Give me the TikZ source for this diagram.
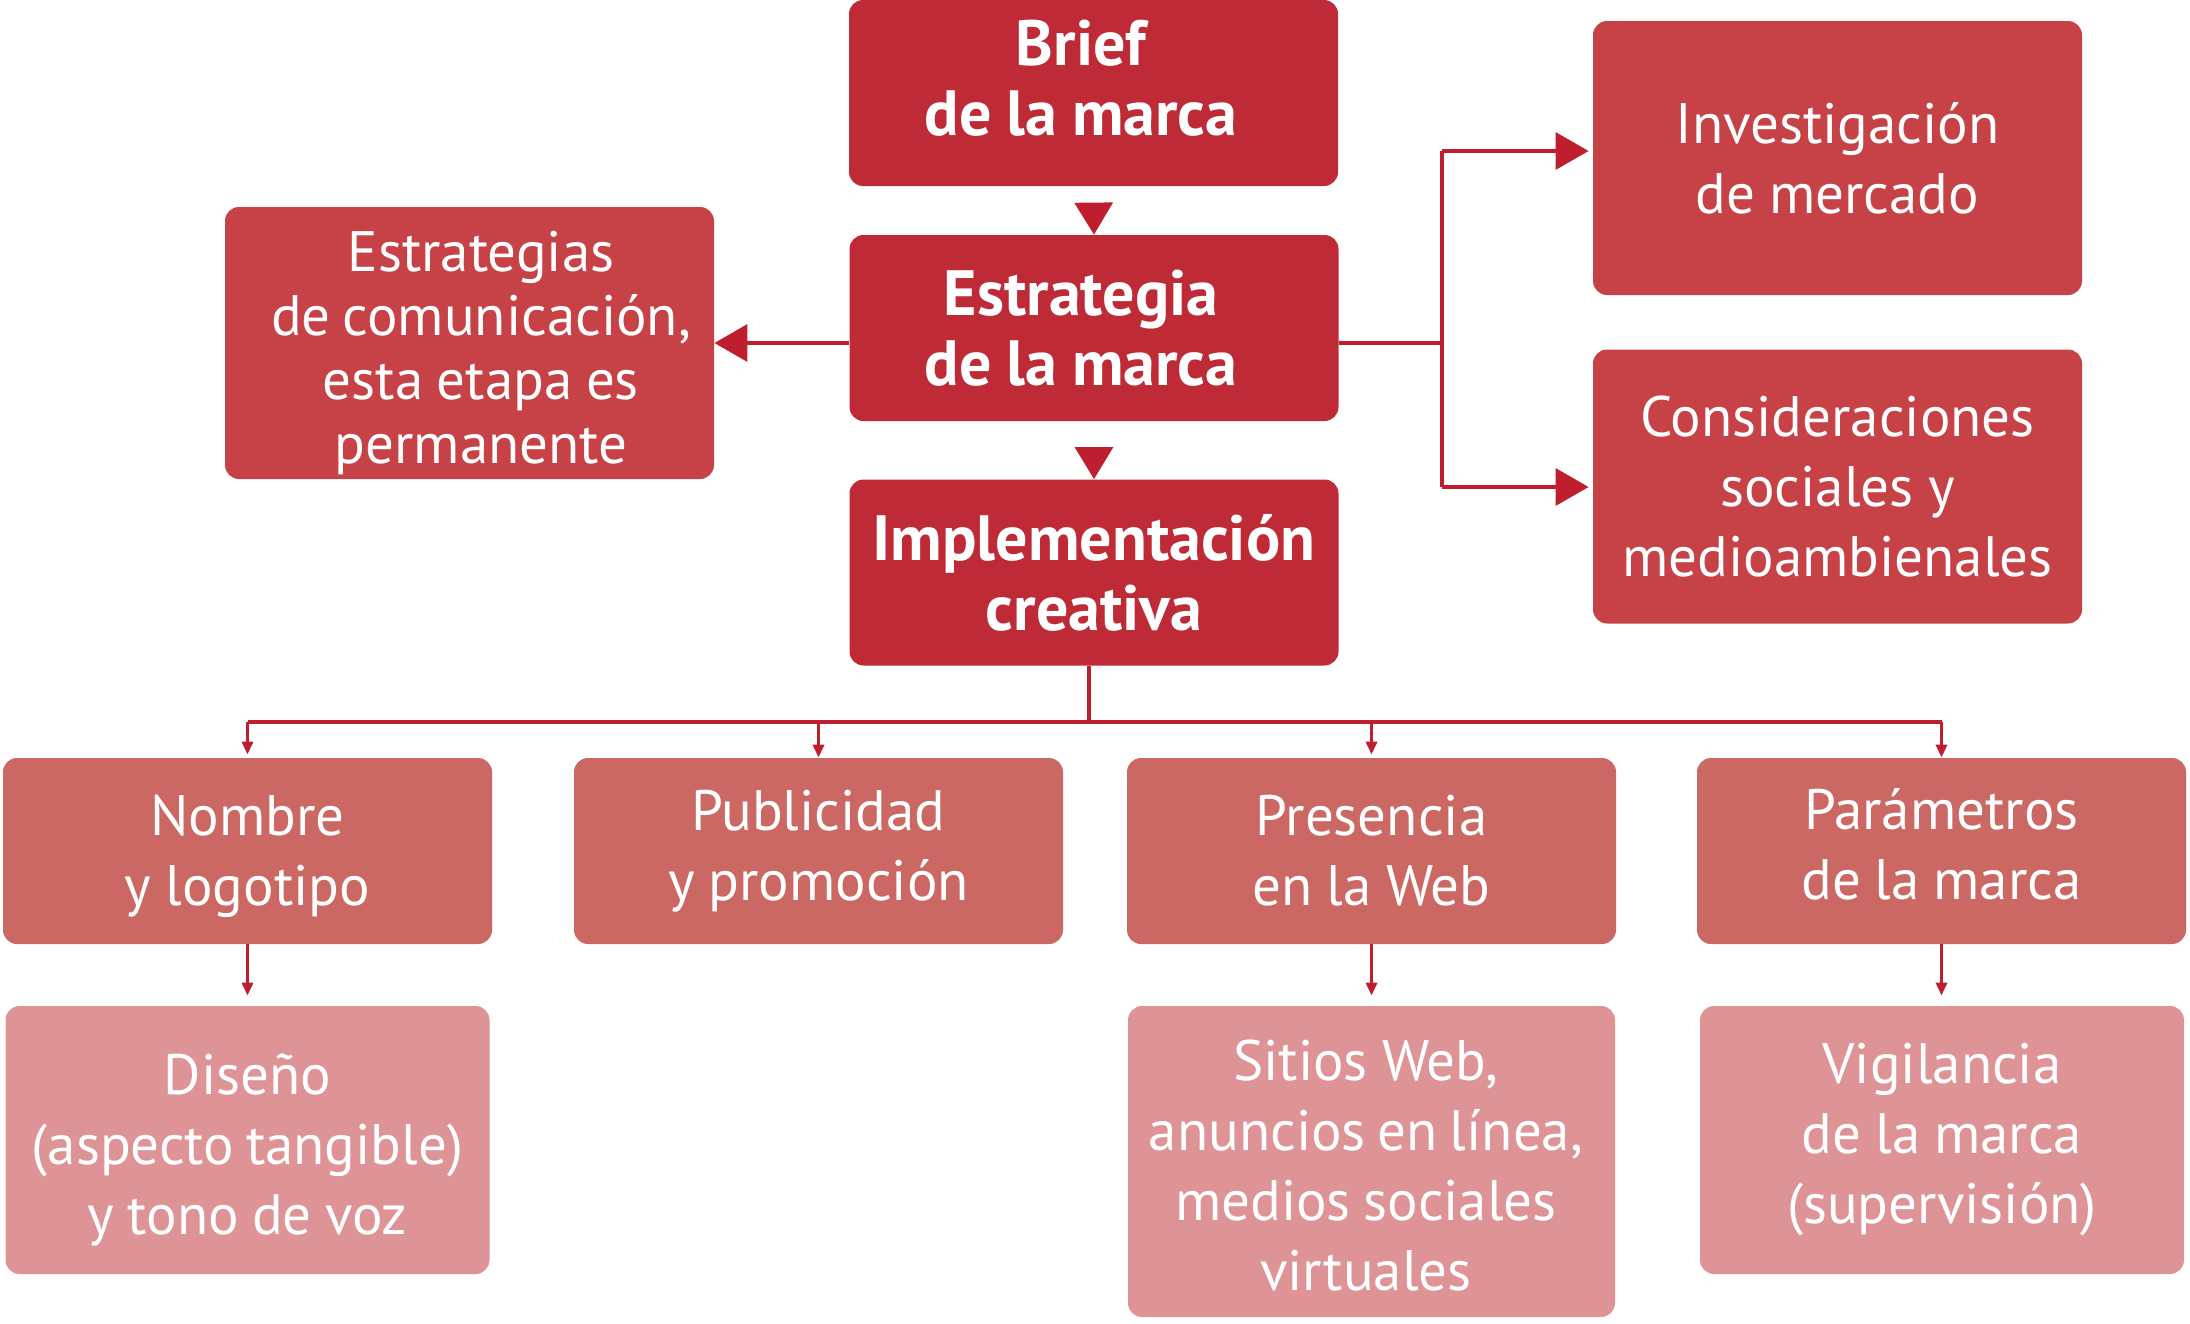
\documentclass[tikz,border=0pt]{standalone}
\usepackage{fontspec}
\setmainfont{PT Sans}
\usetikzlibrary{arrows.meta}
\definecolor{cA}{RGB}{190,43,55}
\definecolor{cB}{RGB}{198,66,71}
\definecolor{cC}{RGB}{203,104,99}
\definecolor{cD}{RGB}{222,147,150}
\definecolor{cL}{RGB}{190,30,45}
\newcommand\tightspaces{\spaceskip=0.2em plus 0.05em minus 0.02em\relax}
\begin{document}
\begin{tikzpicture}[x=0.5pt,y=-0.5pt,
  box/.style={rounded corners=7pt, inner sep=0pt, align=center, text=white,
    minimum width=244.5pt, text width=240pt, execute at begin node=\tightspaces},
  boldfont/.style={font=\bfseries\fontsize{32}{35}\selectfont},
  regfont/.style={font=\fontsize{28.5}{35}\selectfont},
  boxA/.style={box, fill=cA, minimum height=93pt, boldfont},
  boxB/.style={box, fill=cB, minimum height=137pt, regfont},
  boxC/.style={box, fill=cC, minimum height=93pt, regfont},
  boxD/.style={box, fill=cD, minimum width=242pt, regfont},
  plaintext/.style={inner sep=0pt, align=center, text=white, text width=240pt, execute at begin node=\tightspaces},
  link/.style={draw=cL, line width=1.65pt},
  bigdown/.style={link, -{Triangle[length=16pt,width=19pt]}},
  sidearr/.style={link, -{Triangle[length=16.5pt,width=18.5pt]}},
  smallarr/.style={link, -{Triangle[length=6.5pt,width=5.5pt]}},
]
\useasboundingbox (0,0) rectangle (2190,1323);

% top column
\node[boxA] (brief) at (1093.5,93) {};
\node[plaintext, boldfont] (briefT) at (1081,78) {Brief\\de la marca};
\node[boxA] (estr) at (1094,328) {};
\node[plaintext, boldfont] (estrT) at (1081,328) {Estrategia\\de la marca};
\node[boxA] (impl) at (1094,572.5) {Implementación\\creativa};

% side boxes
\node[boxB, minimum height=136pt] (estrs) at (469.5,343) {};
\node[plaintext, font=\fontsize{28.5}{32}\selectfont] (estrsT) at (481,353) {Estrategias\\de comunicación,\\esta etapa es\\permanente};
\node[boxB] (inv) at (1837.5,158) {Investigación\\de mercado};
\node[boxB] (cons) at (1837.5,486.5) {Consideraciones\\sociales y\\medioambienales};

% second row
\node[boxC] (nombre) at (247.5,851) {};
\node[plaintext, regfont] (nombreT) at (247.5,856) {Nombre\\y logotipo};
\node[boxC] (publi) at (818.5,851) {Publicidad\\y promoción};
\node[boxC] (pres) at (1371.5,851) {Presencia\\en la Web};
\node[boxC] (param) at (1941.5,851) {};
\node[plaintext, regfont] (paramT) at (1941.5,844) {Parámetros\\de la marca};

% third row
\node[boxD, minimum height=134pt] (diseno) at (247.5,1140) {};
\node[plaintext, regfont] (disenoT) at (247.5,1150) {Diseño\\(aspecto tangible)\\y tono de voz};
\node[boxD, minimum height=155.5pt, minimum width=243.5pt] (sitios) at (1371.5,1161.5) {};
\node[plaintext, regfont] (sitiosT) at (1366,1166) {Sitios Web,\\anuncios en línea,\\medios sociales\\virtuales};
\node[boxD, minimum height=134pt] (vigil) at (1942,1140) {Vigilancia\\de la marca\\(supervisión)};

% main column arrows
\draw[bigdown, shorten <=8.5pt] (brief.south) -- (estr.north);
\draw[bigdown, shorten <=13pt] (estr.south) -- (impl.north);

% left arrow
\draw[sidearr] ([yshift=-7.5pt]estr.west) -- ([yshift=-7.5pt]estr.west -| estrs.east);

% right branch
\coordinate (jm) at (1442,343);
\coordinate (jt) at (1442,151);
\coordinate (jb) at (1442,487);
\draw[link] ([yshift=-7.5pt]estr.east) -- (jm);
\draw[link] (jt) -- (jb);
\draw[sidearr, shorten >=2pt] (jt) -- (jt -| inv.west);
\draw[sidearr, shorten >=2pt] (jb) -- (jb -| cons.west);

% bus
\coordinate (stem) at (1089,666);
\coordinate (busL) at (247.5,722);
\coordinate (busR) at (1941.5,722);
\draw[link] (stem) -- (stem |- busL);
\draw[link] (busL) -- (busR);
\draw[smallarr, shorten >=1.5pt] (busL) -- (nombre.north);
\draw[smallarr] (publi.north |- busL) -- (publi.north);
\draw[smallarr, shorten >=1.5pt] (pres.north |- busL) -- (pres.north);
\draw[smallarr] (busR) -- (param.north);

% second to third row
\draw[smallarr, shorten >=5pt] (nombre.south) -- (diseno.north);
\draw[smallarr, shorten >=5pt] (pres.south) -- (sitios.north);
\draw[smallarr, shorten >=5pt] (param.south) -- (param.south |- vigil.north);
\end{tikzpicture}
\end{document}
